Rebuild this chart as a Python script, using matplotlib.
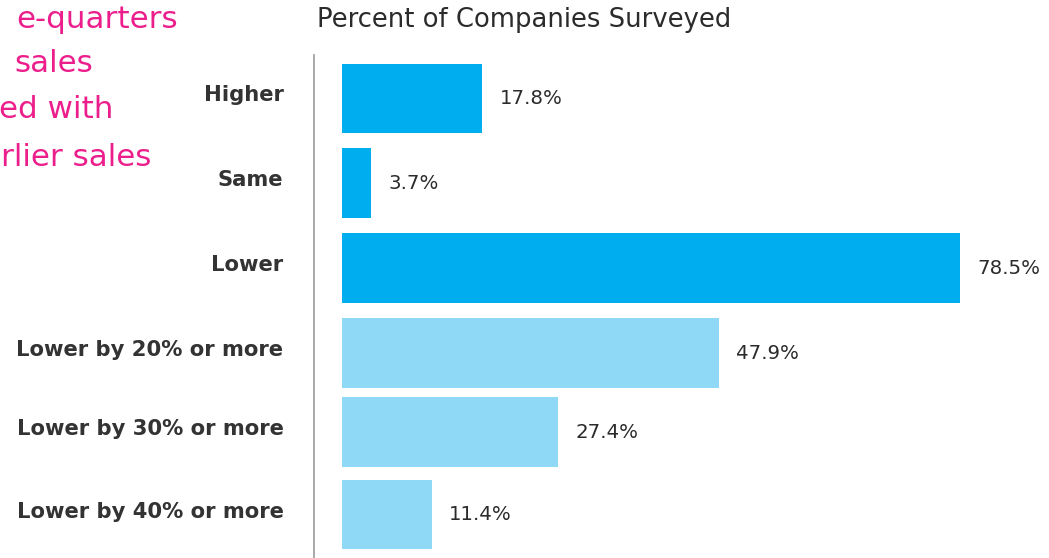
import numpy as np
import matplotlib
matplotlib.use('Agg')
import matplotlib.pyplot as plt
from matplotlib.transforms import offset_copy

plt.rcParams['font.family'] = ['DejaVu Sans']

categories = ["Higher", "Same", "Lower", "Lower by 20% or more",
              "Lower by 30% or more", "Lower by 40% or more"]
values = [17.8, 3.7, 78.5, 47.9, 27.4, 11.4]
dark_rows = 3  # first three rows are the headline categories

# callout text running in from the left edge of the page
callout_lines = ["e-quarters", "sales", "ed with", "rlier sales"]
callout_right = [178, 93, 113, 151]   # right edge, px
callout_y = [20, 63, 110, 158]        # line centre, px

# row centres in bar-slot units (rows are not quite evenly spaced)
row_pos = [0.0, 1.02, 2.04, 3.06, 4.01, 5.0]

W, H = 1049, 558
fig = plt.figure(figsize=(W / 100, H / 100), dpi=100)

ax_left, ax_top = 314, 55
ax = fig.add_axes([ax_left / W, 0, 1 - ax_left / W, 1 - ax_top / H])

px_per_unit = 618 / 78.5
x0 = -(342 - ax_left) / px_per_unit
ax.set_xlim(x0, x0 + (W - ax_left) / px_per_unit)
ax.set_ylim(5.52, -0.52)

colors = ['#00aeef' if i < dark_rows else '#8fd8f6' for i in range(len(categories))]
ax.barh(row_pos, values, height=0.835, left=0, color=colors)

for yi, v in zip(row_pos, values):
    ax.text(v + 2.2, yi, f"{v}%", va='center', ha='left',
            fontsize=14.2, color='#2b2b2b')

# category labels: baseline just below the bar centre, right-aligned to the rule
label_tf = offset_copy(ax.get_yaxis_transform(), fig=fig, x=-22, y=-2.3, units='points')
for yi, cat in zip(row_pos, categories):
    ax.text(0, yi, cat, transform=label_tf, ha='right', va='baseline',
            fontsize=15.2, fontweight='bold', color='#333333')

ax.set_yticks([])
ax.set_xticks([])
for side in ['top', 'right', 'bottom']:
    ax.spines[side].set_visible(False)
ax.spines['left'].set_color('#999999')
ax.spines['left'].set_linewidth(1.2)

fig.text(317 / W, 1 - 20 / H, "Percent of Companies Surveyed", ha='left', va='center',
         fontsize=18.6, color='#2b2b2b')

for txt, xr, yc in zip(callout_lines, callout_right, callout_y):
    fig.text(xr / W, 1 - yc / H, txt, ha='right', va='center',
             fontsize=22.3, color='#ec1e8c')

fig.savefig('out.png', dpi=100)
